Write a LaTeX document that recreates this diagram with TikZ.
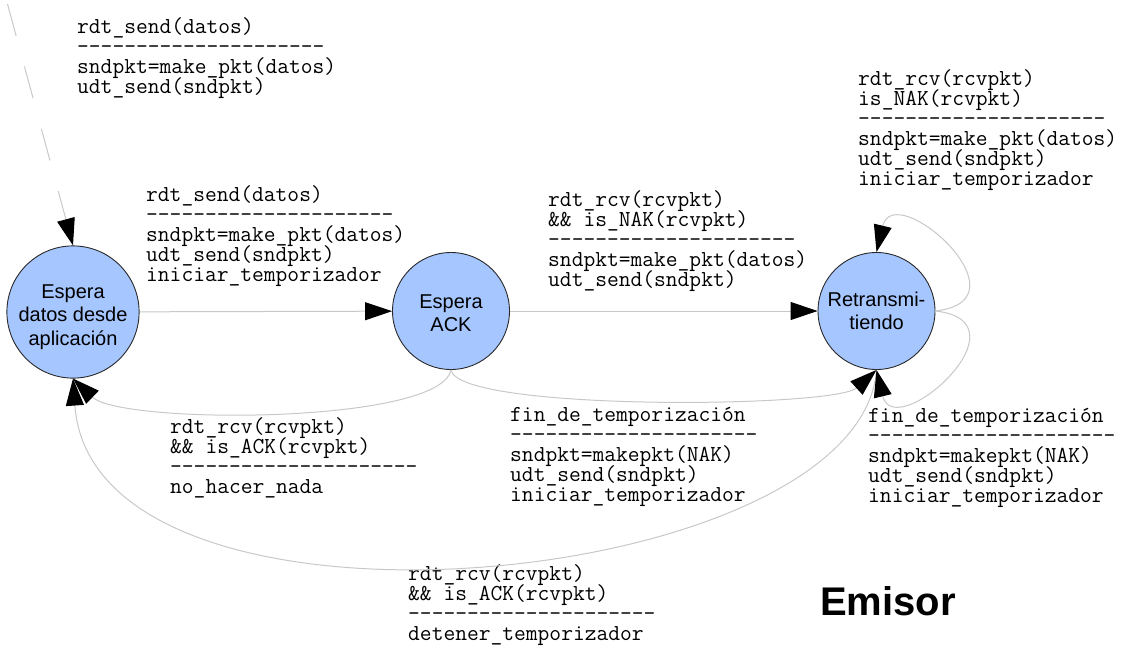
\documentclass[tikz,border=0pt]{standalone}
\usepackage{fontspec}
\setmainfont{Liberation Sans}
\usetikzlibrary{arrows.meta}
\definecolor{statefill}{RGB}{166,198,255}
\definecolor{edgegray}{RGB}{200,200,200}
\definecolor{borderc}{RGB}{40,40,40}
\tikzset{
  statenode/.style={circle, draw=borderc, line width=0.9pt, fill=statefill,
    minimum size=117pt, inner sep=0pt, align=center,
    font={\fontsize{20pt}{23.5pt}\selectfont}},
  lbl/.style={anchor=north west, inner sep=0pt, align=left,
    font={\ttfamily\fontsize{22.86pt}{20pt}\selectfont\lineskiplimit-30pt}},
  edge/.style={draw=edgegray, line width=1pt,
    -{Triangle[length=27pt,width=18pt,color=black]}},
}
\newcommand\hy{-\kern0pt}
\newcommand\dline{\hy\hy\hy\hy\hy\hy\hy\hy\hy\hy\hy\hy\hy\hy\hy\hy\hy\hy\hy\hy\hy}
\newcommand\fs{\rule{0pt}{17.5pt}}
\begin{document}
\begin{tikzpicture}[x=1pt,y=-1pt]
\useasboundingbox (0,0) rectangle (1121,648);
% states
\node[statenode] (c1) at (73,312) {\rule{0pt}{24pt}Espera\\datos desde\\aplicación};
\node[statenode] (c2) at (451,311) {\rule{0pt}{18pt}Espera\\ACK};
\node[statenode] (c3) at (876.5,311) {Retransmi-\\tiendo};
% labels
\node[lbl] (tA) at (77,15.5) {\fs rdt\_send(datos)\\\dline\\sndpkt=make\_pkt(datos)\\udt\_send(sndpkt)};
\node[lbl] (tB) at (146,183.5) {\fs rdt\_send(datos)\\\dline\\sndpkt=make\_pkt(datos)\\udt\_send(sndpkt)\\iniciar\_temporizador};
\node[lbl] (tC) at (548,188.5) {\fs rdt\_rcv(rcvpkt)\\\&\& is\_NAK(rcvpkt)\\\dline\\sndpkt=make\_pkt(datos)\\udt\_send(sndpkt)};
\node[lbl] (tD) at (858,67.5) {\fs rdt\_rcv(rcvpkt)\\is\_NAK(rcvpkt)\\\dline\\sndpkt=make\_pkt(datos)\\udt\_send(sndpkt)\\iniciar\_temporizador};
\node[lbl] (tE) at (868,404.5) {\fs fin\_de\_temporización\\\dline\\sndpkt=makepkt(NAK)\\udt\_send(sndpkt)\\iniciar\_temporizador};
\node[lbl] (tF) at (510,403.5) {\fs fin\_de\_temporización\\\dline\\sndpkt=makepkt(NAK)\\udt\_send(sndpkt)\\iniciar\_temporizador};
\node[lbl] (tG) at (170,415.5) {\fs rdt\_rcv(rcvpkt)\\\&\& is\_ACK(rcvpkt)\\\dline\\no\_hacer\_nada};
\node[lbl] (tH) at (408,562.5) {\fs rdt\_rcv(rcvpkt)\\\&\& is\_ACK(rcvpkt)\\\dline\\detener\_temporizador};
\node[anchor=base west, inner sep=0pt, font={\bfseries\fontsize{40pt}{40pt}\selectfont}] (em) at (820,615) {Emisor};
% edges
\coordinate (ini) at (7.5,4);
\draw[edge, dash pattern=on 33pt off 31.6pt] (ini) -- (c1.north);
\draw[edge] (c1) -- (c2);
\draw[edge] (c2) -- (c3);
\draw[edge] (c2.south) .. controls +(-11,54.5) and +(48.2,46.2) .. (c1.south);
\draw[edge] (c2.south) .. controls +(7,41.5) and +(-42.2,38.2) .. (c3.south);
\draw[edge] (c3.south) .. controls +(-16.5,220.5) and +(20.1,286.1) .. (c1.south);
\draw[edge] (c3.east) .. controls +(97,-11) and +(17.9,-74.8) .. (c3.north);
\draw[edge] (c3.east) .. controls +(97,11) and +(17.9,74.8) .. (c3.south);
\end{tikzpicture}
\end{document}
